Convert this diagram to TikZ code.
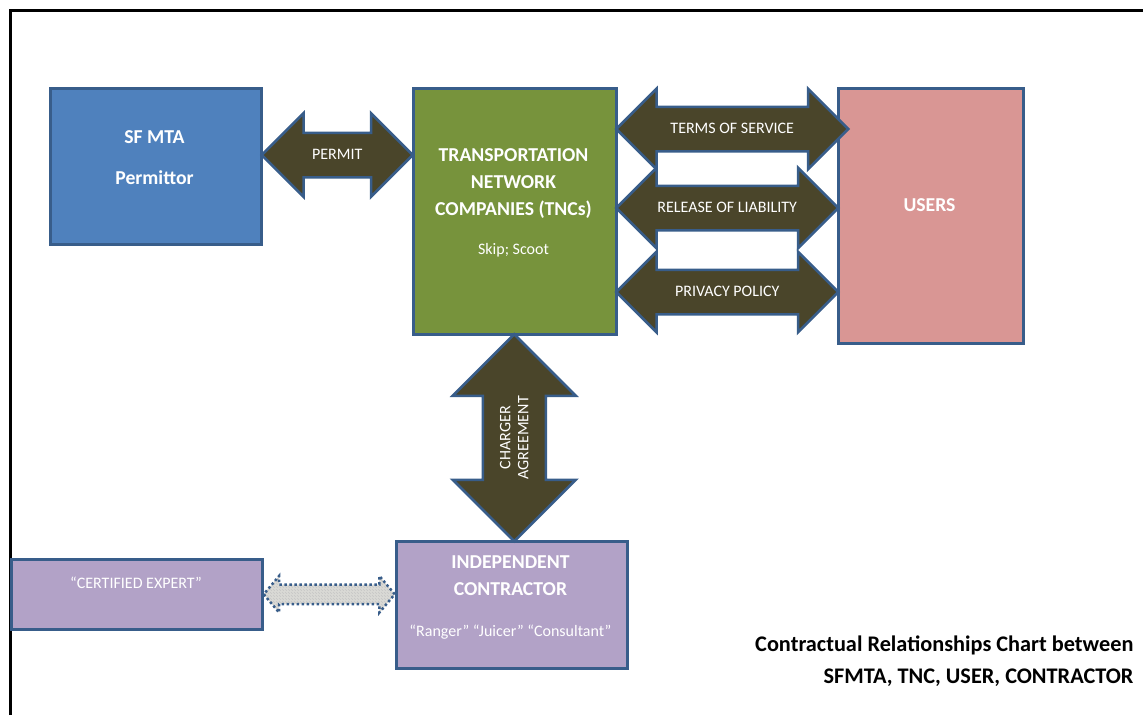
\documentclass[tikz,border=0pt]{standalone}
\usepackage{fontspec}
\setmainfont{Carlito}
\usepackage{tikz}
\usetikzlibrary{shapes,positioning,calc,patterns}
\usepackage{xcolor}
\definecolor{mtablue}{HTML}{4F81BD}
\definecolor{tncgreen}{HTML}{77933C}
\definecolor{userpink}{HTML}{D99694}
\definecolor{icpurple}{HTML}{B2A2C7}
\definecolor{edge}{HTML}{385D8A}
\definecolor{dealfill}{HTML}{4A452A}
\definecolor{hatchgray}{HTML}{D9D9D5}

\begin{document}
\begin{tikzpicture}[x=1pt,y=-1pt]
    %styles
    \tikzstyle{party}=[rectangle,draw=edge,line width=2.5pt,anchor=north west,inner sep=0pt]
    \tikzstyle{heading}=[text=white,font=\bfseries\fontsize{19.7}{27}\selectfont,align=center,anchor=base]
    \tikzstyle{small}=[text=white,font=\fontsize{16}{18}\selectfont,align=center,anchor=base]
    \tikzstyle{fat}=[double arrow,draw=edge,line width=2.5pt,fill=dealfill,text=white,font=\fontsize{16}{18}\selectfont,inner xsep=0pt]
    \tikzstyle{deal}=[fat,double arrow head extend=18pt,inner ysep=15.5pt,text height=10pt,text depth=1pt]
    \tikzstyle{upright}=[fat,rotate=90,align=center,double arrow head extend=30pt,inner ysep=16pt]
    \tikzstyle{loose}=[double arrow,draw=edge,line width=2.5pt,dash pattern=on 2.5pt off 2.5pt,preaction={fill=hatchgray},pattern=north west lines,pattern color=gray!45,double arrow head extend=8.5pt,double arrow tip angle=100,inner xsep=0pt,inner ysep=8.5pt]
    \useasboundingbox (0,0) rectangle (1143,715);
    %frame
    \draw[line width=3pt] (10.5,715) |- (1143,10);
    %nodes
    \node[party,fill=mtablue,minimum width=211pt,minimum height=156pt] (mta) at (49,87) {};
    \node[party,fill=tncgreen,minimum width=203pt,minimum height=246pt] (tnc) at (412,87) {};
    \node[party,fill=userpink,minimum width=185pt,minimum height=255pt] (users) at (837,87) {};
    \node[party,fill=icpurple,minimum width=231pt,minimum height=127pt] (ic) at (395,540) {};
    \node[party,fill=icpurple,minimum width=251pt,minimum height=70pt] (expert) at (10,558) {};

    %arrows
    \node[deal,double arrow head extend=19.5pt,minimum height=151pt] (permit) at ($(mta.north east)!.5!(tnc.north west)+(0,68)$) {PERMIT};
    \node[deal,minimum height=232pt] (tos) at ($(tnc.north east)!.5!(users.north west)+(5,42)$) {TERMS OF SERVICE};
    \node[deal,minimum height=222pt] (release) at ($(tnc.north east)!.5!(users.north west)+(0,121)$) {RELEASE OF LIABILITY};
    \node[deal,minimum height=222pt] (privacy) at ($(tnc.north east)!.5!(users.north west)+(0,205)$) {PRIVACY POLICY};
    \node[upright,minimum height=207pt] (charger) at ($(tnc.south)!.5!(ic.north)+(1,0)$) {CHARGER\\AGREEMENT};
    \node[loose,minimum height=131pt] (link) at ($(expert.east)!.5!(ic.west |- expert.east)$) {};

    %texts
    \node[heading] (mtatxt) at (154.5,184) {SF MTA\\[14pt]Permittor};
    \node[heading] (tnctxt) at (513.5,215) {TRANSPORTATION\\NETWORK\\COMPANIES (TNCs)};
    \node[small] (tncsub) at (513.5,254) {Skip; Scoot};
    \node[heading] (userstxt) at (929.5,211) {USERS};
    \node[heading] (ictxt) at (510.5,595) {INDEPENDENT\\CONTRACTOR};
    \node[small] (icsub) at (510.5,636) {“Ranger” “Juicer” “Consultant”};
    \node[small] (experttxt) at (136,588) {“CERTIFIED EXPERT”};
    \node[anchor=base east,align=right,font=\bfseries\fontsize{22.3}{32}\selectfont] (chart) at (1137,683) {Contractual Relationships Chart between\\SFMTA, TNC, USER, CONTRACTOR};
\end{tikzpicture}
\end{document}
